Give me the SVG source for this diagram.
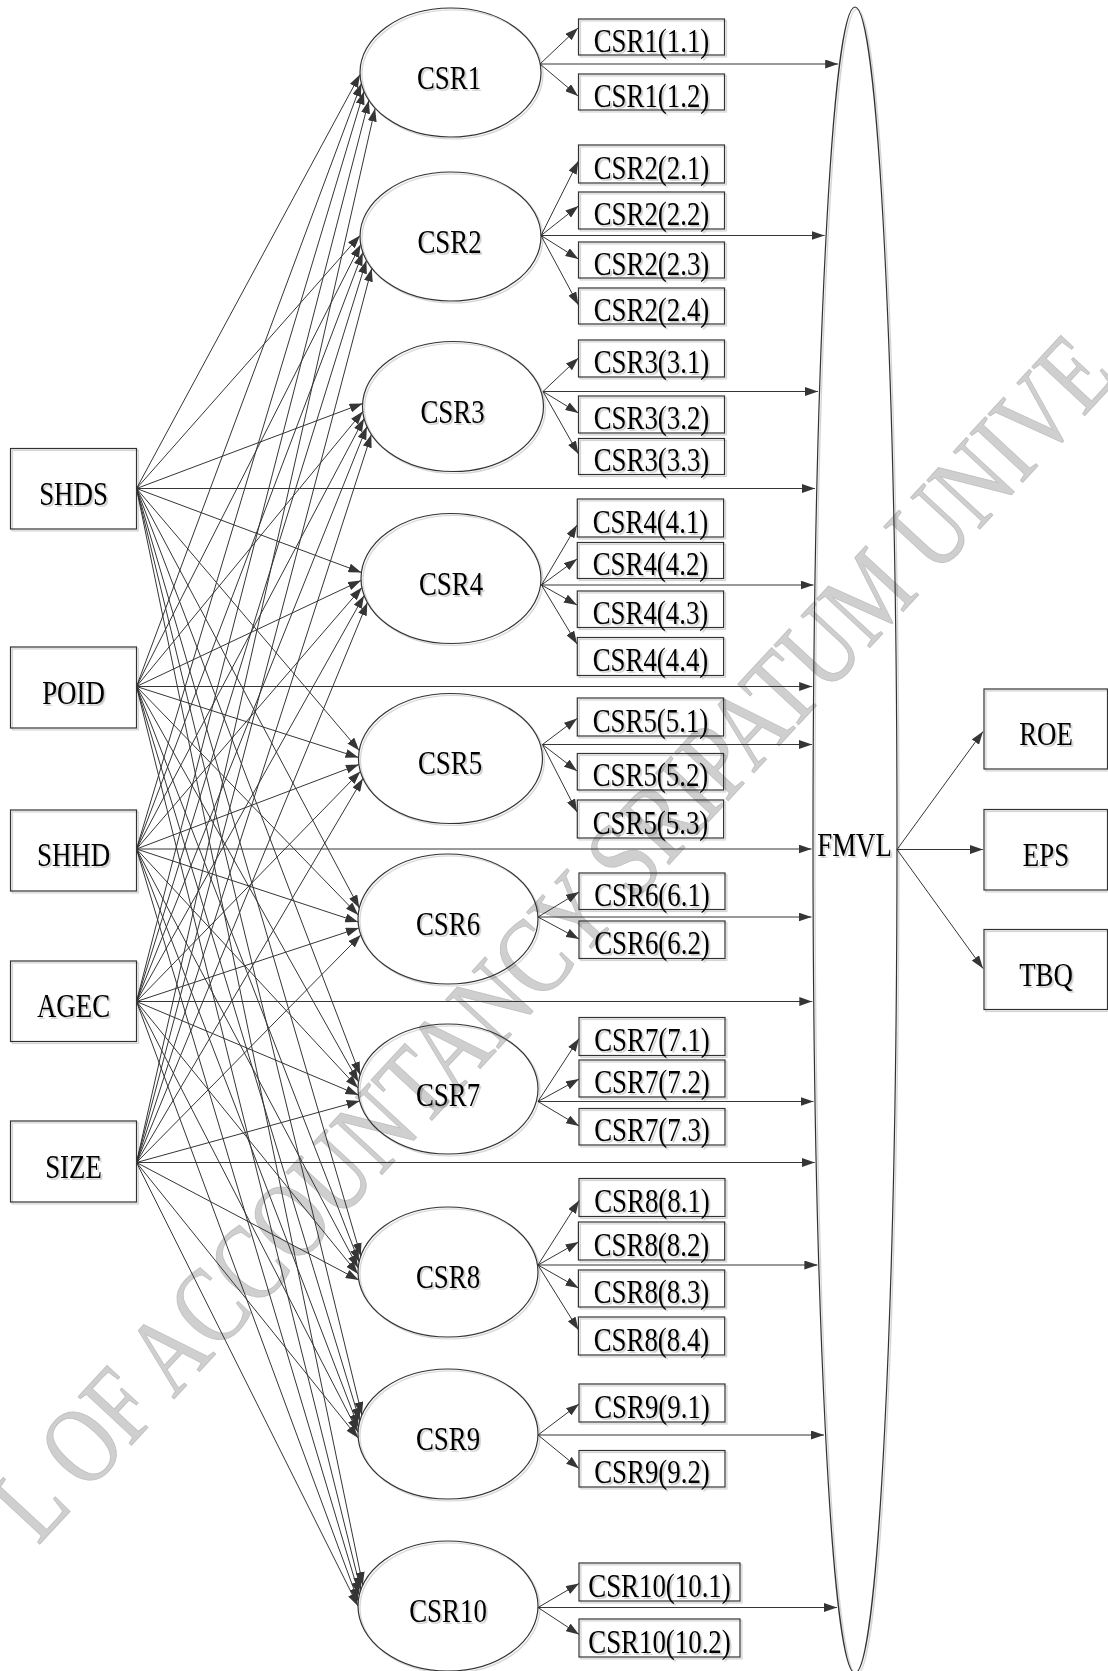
<svg xmlns="http://www.w3.org/2000/svg" width="1108" height="1671" viewBox="0 0 1108 1671">
<defs>
<style>
.t{font-family:"Liberation Serif","Times New Roman",serif;font-size:34px;fill:#000;text-anchor:middle}
.n{fill:none;stroke:#333;stroke-width:1.2}
.c line{stroke:#353535;stroke-width:1;marker-end:url(#ah)}
.wm{font-family:"Liberation Serif","Times New Roman",serif;font-size:110px;fill:#cfcfcf;stroke:#c2c2c2;stroke-width:1}
.sh{filter:url(#sh)}
</style>
<marker id="ah" markerUnits="userSpaceOnUse" markerWidth="13" markerHeight="9" refX="13" refY="4.5" orient="auto"><path d="M0,0 L13,4.5 L0,9 z" fill="#353535"/></marker>
<filter id="sh" x="-10%" y="-10%" width="130%" height="130%"><feDropShadow dx="1.8" dy="1.8" stdDeviation="0.7" flood-color="#000" flood-opacity="0.2"/></filter>
</defs>
<rect width="1108" height="1671" fill="#fff"/>
<text class="wm" transform="translate(38 1546) rotate(-47.2) scale(0.79 1)">L OF ACCOUNTANCY SRIPATUM UNIVE</text>
<g id="connectors" class="c">
<line x1="136.5" y1="488.5" x2="360" y2="74.5"/>
<line x1="136.5" y1="488.5" x2="360" y2="235.5"/>
<line x1="136.5" y1="488.5" x2="362.6" y2="403.5"/>
<line x1="136.5" y1="488.5" x2="361.4" y2="572.5"/>
<line x1="136.5" y1="488.5" x2="359.2" y2="750.5"/>
<line x1="136.5" y1="488.5" x2="359.3" y2="908"/>
<line x1="136.5" y1="488.5" x2="360.1" y2="1075"/>
<line x1="136.5" y1="488.5" x2="360.8" y2="1256"/>
<line x1="136.5" y1="488.5" x2="361.9" y2="1415"/>
<line x1="136.5" y1="488.5" x2="362.8" y2="1585"/>
<line x1="136.5" y1="488.5" x2="815" y2="488.5"/>
<line x1="136.5" y1="686.5" x2="361.3" y2="83.5"/>
<line x1="136.5" y1="686.5" x2="360.7" y2="244.5"/>
<line x1="136.5" y1="686.5" x2="362.8" y2="411.5"/>
<line x1="136.5" y1="686.5" x2="361" y2="580.5"/>
<line x1="136.5" y1="686.5" x2="358.5" y2="757.5"/>
<line x1="136.5" y1="686.5" x2="358.2" y2="915"/>
<line x1="136.5" y1="686.5" x2="358.5" y2="1082"/>
<line x1="136.5" y1="686.5" x2="359.1" y2="1262"/>
<line x1="136.5" y1="686.5" x2="359.8" y2="1421"/>
<line x1="136.5" y1="686.5" x2="360.8" y2="1590"/>
<line x1="136.5" y1="686.5" x2="812.2" y2="686.5"/>
<line x1="136.5" y1="849" x2="363.9" y2="91.5"/>
<line x1="136.5" y1="849" x2="362.8" y2="252.5"/>
<line x1="136.5" y1="849" x2="364.1" y2="418.5"/>
<line x1="136.5" y1="849" x2="361.9" y2="587.5"/>
<line x1="136.5" y1="849" x2="358.9" y2="764.5"/>
<line x1="136.5" y1="849" x2="358.1" y2="922"/>
<line x1="136.5" y1="849" x2="358" y2="1088"/>
<line x1="136.5" y1="849" x2="358.2" y2="1268"/>
<line x1="136.5" y1="849" x2="358.5" y2="1427"/>
<line x1="136.5" y1="849" x2="359.3" y2="1595"/>
<line x1="136.5" y1="849" x2="811.5" y2="849"/>
<line x1="136.5" y1="1001.5" x2="368.8" y2="100.5"/>
<line x1="136.5" y1="1001.5" x2="366.4" y2="260.5"/>
<line x1="136.5" y1="1001.5" x2="366.9" y2="426.5"/>
<line x1="136.5" y1="1001.5" x2="364.1" y2="595.5"/>
<line x1="136.5" y1="1001.5" x2="360.3" y2="771.5"/>
<line x1="136.5" y1="1001.5" x2="358.9" y2="928"/>
<line x1="136.5" y1="1001.5" x2="358.4" y2="1095"/>
<line x1="136.5" y1="1001.5" x2="358" y2="1274"/>
<line x1="136.5" y1="1001.5" x2="358" y2="1432"/>
<line x1="136.5" y1="1001.5" x2="358.3" y2="1601"/>
<line x1="136.5" y1="1001.5" x2="812.3" y2="1001.5"/>
<line x1="136.5" y1="1162.5" x2="375.1" y2="108.5"/>
<line x1="136.5" y1="1162.5" x2="371.7" y2="268.5"/>
<line x1="136.5" y1="1162.5" x2="371.3" y2="434.5"/>
<line x1="136.5" y1="1162.5" x2="367.4" y2="602.5"/>
<line x1="136.5" y1="1162.5" x2="362.9" y2="778.5"/>
<line x1="136.5" y1="1162.5" x2="360.8" y2="935"/>
<line x1="136.5" y1="1162.5" x2="359.6" y2="1101"/>
<line x1="136.5" y1="1162.5" x2="358.7" y2="1280"/>
<line x1="136.5" y1="1162.5" x2="358.2" y2="1438"/>
<line x1="136.5" y1="1162.5" x2="358" y2="1606"/>
<line x1="136.5" y1="1162.5" x2="814.8" y2="1162.5"/>
<line x1="540" y1="64" x2="578" y2="28"/>
<line x1="540" y1="64" x2="578" y2="96"/>
<line x1="540" y1="64" x2="838.2" y2="64"/>
<line x1="541" y1="235.5" x2="578.4" y2="161"/>
<line x1="541" y1="235.5" x2="578.4" y2="206"/>
<line x1="541" y1="235.5" x2="578.4" y2="259"/>
<line x1="541" y1="235.5" x2="578.4" y2="305"/>
<line x1="541" y1="235.5" x2="824.6" y2="235.5"/>
<line x1="543" y1="391.5" x2="578.4" y2="358"/>
<line x1="543" y1="391.5" x2="578.4" y2="413"/>
<line x1="543" y1="391.5" x2="578.4" y2="454"/>
<line x1="543" y1="391.5" x2="818" y2="391.5"/>
<line x1="541.5" y1="585" x2="577" y2="525"/>
<line x1="541.5" y1="585" x2="577" y2="559"/>
<line x1="541.5" y1="585" x2="577" y2="605"/>
<line x1="541.5" y1="585" x2="577" y2="644"/>
<line x1="541.5" y1="585" x2="813.5" y2="585"/>
<line x1="542.5" y1="744.5" x2="577" y2="718.5"/>
<line x1="542.5" y1="744.5" x2="577" y2="771"/>
<line x1="542.5" y1="744.5" x2="577" y2="812"/>
<line x1="542.5" y1="744.5" x2="812" y2="744.5"/>
<line x1="538" y1="917" x2="579" y2="892"/>
<line x1="538" y1="917" x2="579" y2="939"/>
<line x1="538" y1="917" x2="811.5" y2="917"/>
<line x1="538" y1="1101.5" x2="579" y2="1038.5"/>
<line x1="538" y1="1101.5" x2="579" y2="1079"/>
<line x1="538" y1="1101.5" x2="579" y2="1126"/>
<line x1="538" y1="1101.5" x2="813.5" y2="1101.5"/>
<line x1="538" y1="1265" x2="579" y2="1200.5"/>
<line x1="538" y1="1265" x2="578.5" y2="1242"/>
<line x1="538" y1="1265" x2="578.5" y2="1288"/>
<line x1="538" y1="1265" x2="578.5" y2="1330"/>
<line x1="538" y1="1265" x2="817.4" y2="1265"/>
<line x1="538" y1="1435" x2="579" y2="1404"/>
<line x1="538" y1="1435" x2="579" y2="1468.5"/>
<line x1="538" y1="1435" x2="824" y2="1435"/>
<line x1="538" y1="1607.5" x2="579" y2="1583.5"/>
<line x1="538" y1="1607.5" x2="579" y2="1634.5"/>
<line x1="538" y1="1607.5" x2="837" y2="1607.5"/>
<line x1="897" y1="849.5" x2="983" y2="731.5"/>
<line x1="897" y1="849.5" x2="983" y2="849.5"/>
<line x1="897" y1="849.5" x2="983" y2="968.5"/>
</g>
<g id="SHDS" class="sh"><rect class="n" x="10.5" y="448.5" width="126" height="80.5"/><text class="t" transform="translate(73.5 504.5) scale(0.79 1)">SHDS</text></g>
<g id="POID" class="sh"><rect class="n" x="10.5" y="647" width="126" height="81"/><text class="t" transform="translate(73.5 703.5) scale(0.79 1)">POID</text></g>
<g id="SHHD" class="sh"><rect class="n" x="10.5" y="810" width="126" height="81"/><text class="t" transform="translate(73.5 866.3) scale(0.79 1)">SHHD</text></g>
<g id="AGEC" class="sh"><rect class="n" x="10.5" y="961" width="126" height="80.5"/><text class="t" transform="translate(73.5 1017.3) scale(0.79 1)">AGEC</text></g>
<g id="SIZE" class="sh"><rect class="n" x="10.5" y="1121" width="126" height="81"/><text class="t" transform="translate(73.5 1177.5) scale(0.79 1)">SIZE</text></g>
<g id="CSR1" class="sh"><ellipse class="n" cx="450.5" cy="72.5" rx="90.5" ry="64.5"/><text class="t" transform="translate(449 88.5) scale(0.79 1)">CSR1</text></g>
<g id="CSR2" class="sh"><ellipse class="n" cx="450.5" cy="236.5" rx="90.5" ry="64.5"/><text class="t" transform="translate(449.5 252.5) scale(0.79 1)">CSR2</text></g>
<g id="CSR3" class="sh"><ellipse class="n" cx="453" cy="406.5" rx="90.5" ry="65"/><text class="t" transform="translate(452.5 422.5) scale(0.79 1)">CSR3</text></g>
<g id="CSR4" class="sh"><ellipse class="n" cx="451" cy="578.5" rx="90" ry="65"/><text class="t" transform="translate(451 594.5) scale(0.79 1)">CSR4</text></g>
<g id="CSR5" class="sh"><ellipse class="n" cx="450.5" cy="758.5" rx="92" ry="65"/><text class="t" transform="translate(450 774) scale(0.79 1)">CSR5</text></g>
<g id="CSR6" class="sh"><ellipse class="n" cx="448" cy="919" rx="90" ry="65"/><text class="t" transform="translate(448 934.5) scale(0.79 1)">CSR6</text></g>
<g id="CSR7" class="sh"><ellipse class="n" cx="448" cy="1089" rx="90" ry="65"/><text class="t" transform="translate(448 1105.5) scale(0.79 1)">CSR7</text></g>
<g id="CSR8" class="sh"><ellipse class="n" cx="448" cy="1272" rx="90" ry="65"/><text class="t" transform="translate(448 1287.5) scale(0.79 1)">CSR8</text></g>
<g id="CSR9" class="sh"><ellipse class="n" cx="448" cy="1434" rx="90" ry="65"/><text class="t" transform="translate(448 1450) scale(0.79 1)">CSR9</text></g>
<g id="CSR10" class="sh"><ellipse class="n" cx="448" cy="1606" rx="90" ry="65"/><text class="t" transform="translate(448 1621.5) scale(0.79 1)">CSR10</text></g>
<g id="CSR1_1" class="sh"><rect class="n" x="578.5" y="19" width="146" height="36"/><text class="t" transform="translate(651.5 51.5) scale(0.79 1)">CSR1(1.1)</text></g>
<g id="CSR1_2" class="sh"><rect class="n" x="578.5" y="74" width="146" height="36"/><text class="t" transform="translate(651.5 106.5) scale(0.79 1)">CSR1(1.2)</text></g>
<g id="CSR2_1" class="sh"><rect class="n" x="578.5" y="145" width="146" height="38"/><text class="t" transform="translate(651.5 178.5) scale(0.79 1)">CSR2(2.1)</text></g>
<g id="CSR2_2" class="sh"><rect class="n" x="578.5" y="192" width="146" height="37"/><text class="t" transform="translate(651.5 225) scale(0.79 1)">CSR2(2.2)</text></g>
<g id="CSR2_3" class="sh"><rect class="n" x="578.5" y="242" width="146" height="36"/><text class="t" transform="translate(651.5 274.5) scale(0.79 1)">CSR2(2.3)</text></g>
<g id="CSR2_4" class="sh"><rect class="n" x="578.5" y="288" width="146" height="36"/><text class="t" transform="translate(651.5 320.5) scale(0.79 1)">CSR2(2.4)</text></g>
<g id="CSR3_1" class="sh"><rect class="n" x="578.5" y="340" width="146" height="37"/><text class="t" transform="translate(651.5 373) scale(0.79 1)">CSR3(3.1)</text></g>
<g id="CSR3_2" class="sh"><rect class="n" x="578.5" y="396" width="146" height="37"/><text class="t" transform="translate(651.5 429) scale(0.79 1)">CSR3(3.2)</text></g>
<g id="CSR3_3" class="sh"><rect class="n" x="578.5" y="438.5" width="146" height="36"/><text class="t" transform="translate(651.5 471) scale(0.79 1)">CSR3(3.3)</text></g>
<g id="CSR4_1" class="sh"><rect class="n" x="577.3" y="499" width="146.3" height="38"/><text class="t" transform="translate(650.5 532.5) scale(0.79 1)">CSR4(4.1)</text></g>
<g id="CSR4_2" class="sh"><rect class="n" x="577.3" y="542.5" width="146.3" height="36"/><text class="t" transform="translate(650.5 575) scale(0.79 1)">CSR4(4.2)</text></g>
<g id="CSR4_3" class="sh"><rect class="n" x="577.3" y="591" width="146.3" height="36.5"/><text class="t" transform="translate(650.5 623.7) scale(0.79 1)">CSR4(4.3)</text></g>
<g id="CSR4_4" class="sh"><rect class="n" x="577.3" y="637.5" width="146.3" height="38"/><text class="t" transform="translate(650.5 671) scale(0.79 1)">CSR4(4.4)</text></g>
<g id="CSR5_1" class="sh"><rect class="n" x="577.3" y="698" width="146.3" height="38"/><text class="t" transform="translate(650.5 731.5) scale(0.79 1)">CSR5(5.1)</text></g>
<g id="CSR5_2" class="sh"><rect class="n" x="577.3" y="753.5" width="146.3" height="36.5"/><text class="t" transform="translate(650.5 786.2) scale(0.79 1)">CSR5(5.2)</text></g>
<g id="CSR5_3" class="sh"><rect class="n" x="577.3" y="800" width="146.3" height="38"/><text class="t" transform="translate(650.5 833.5) scale(0.79 1)">CSR5(5.3)</text></g>
<g id="CSR6_1" class="sh"><rect class="n" x="579" y="873" width="146" height="36.5"/><text class="t" transform="translate(652 905.7) scale(0.79 1)">CSR6(6.1)</text></g>
<g id="CSR6_2" class="sh"><rect class="n" x="579" y="921" width="146" height="37.5"/><text class="t" transform="translate(652 954.2) scale(0.79 1)">CSR6(6.2)</text></g>
<g id="CSR7_1" class="sh"><rect class="n" x="579" y="1017.5" width="146" height="38"/><text class="t" transform="translate(652 1051) scale(0.79 1)">CSR7(7.1)</text></g>
<g id="CSR7_2" class="sh"><rect class="n" x="579" y="1060" width="146" height="37"/><text class="t" transform="translate(652 1093) scale(0.79 1)">CSR7(7.2)</text></g>
<g id="CSR7_3" class="sh"><rect class="n" x="579" y="1108.5" width="146" height="36.5"/><text class="t" transform="translate(652 1141.2) scale(0.79 1)">CSR7(7.3)</text></g>
<g id="CSR8_1" class="sh"><rect class="n" x="579" y="1178.5" width="146" height="38"/><text class="t" transform="translate(652 1212) scale(0.79 1)">CSR8(8.1)</text></g>
<g id="CSR8_2" class="sh"><rect class="n" x="578.4" y="1222" width="146.3" height="38"/><text class="t" transform="translate(651.5 1255.5) scale(0.79 1)">CSR8(8.2)</text></g>
<g id="CSR8_3" class="sh"><rect class="n" x="578.4" y="1270" width="146.3" height="37"/><text class="t" transform="translate(651.5 1303) scale(0.79 1)">CSR8(8.3)</text></g>
<g id="CSR8_4" class="sh"><rect class="n" x="578.4" y="1317" width="146.3" height="38"/><text class="t" transform="translate(651.5 1350.5) scale(0.79 1)">CSR8(8.4)</text></g>
<g id="CSR9_1" class="sh"><rect class="n" x="579" y="1384" width="146" height="38"/><text class="t" transform="translate(652 1417.5) scale(0.79 1)">CSR9(9.1)</text></g>
<g id="CSR9_2" class="sh"><rect class="n" x="579" y="1450.5" width="146" height="36.5"/><text class="t" transform="translate(652 1483.2) scale(0.79 1)">CSR9(9.2)</text></g>
<g id="CSR10_1" class="sh"><rect class="n" x="579" y="1563" width="161" height="38"/><text class="t" transform="translate(659.5 1596.5) scale(0.79 1)">CSR10(10.1)</text></g>
<g id="CSR10_2" class="sh"><rect class="n" x="579" y="1619" width="161" height="38"/><text class="t" transform="translate(659.5 1652.5) scale(0.79 1)">CSR10(10.2)</text></g>
<g id="FMVL" class="sh"><ellipse class="n" cx="855" cy="840" rx="42" ry="833"/><text class="t" transform="translate(854.5 855.7) scale(0.79 1)">FMVL</text></g>
<g id="ROE" class="sh"><rect class="n" x="984" y="689" width="123.5" height="80"/><text class="t" transform="translate(1046 745) scale(0.79 1)">ROE</text></g>
<g id="EPS" class="sh"><rect class="n" x="984" y="809.5" width="123.5" height="80.5"/><text class="t" transform="translate(1046 865.7) scale(0.79 1)">EPS</text></g>
<g id="TBQ" class="sh"><rect class="n" x="984" y="929.5" width="123.5" height="80"/><text class="t" transform="translate(1046 985.5) scale(0.79 1)">TBQ</text></g>
</svg>
